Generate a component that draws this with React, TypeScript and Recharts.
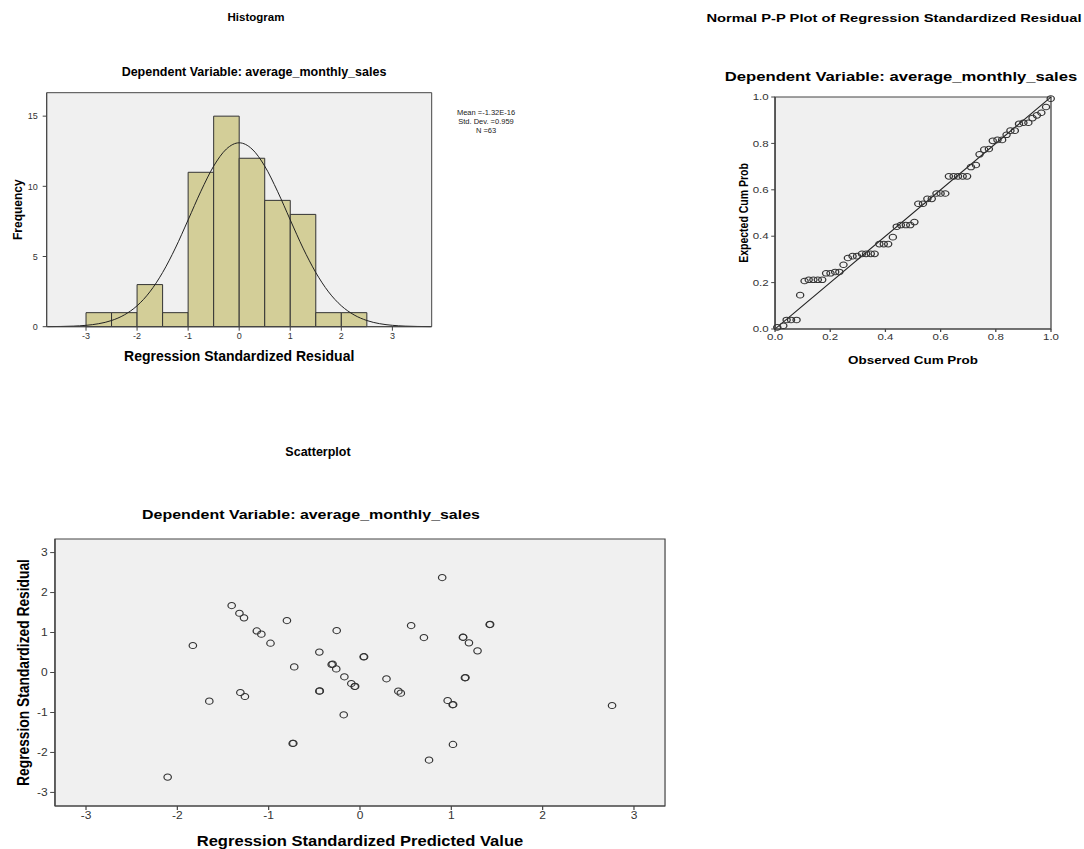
import React from 'react';
import {
  ComposedChart,
  ScatterChart,
  Scatter,
  Line,
  XAxis,
  YAxis,
  ReferenceArea,
  ReferenceLine,
} from 'recharts';

const FONT = '"Liberation Sans", Arial, Helvetica, sans-serif';

// Histogram of regression standardized residuals (bin lower edges, counts)
const binStarts = [-3, -2.5, -2, -1.5, -1, -0.5, 0, 0.5, 1, 1.5, 2];
const binCounts = [1, 1, 3, 1, 11, 15, 12, 9, 8, 1, 1];
const binWidth = 0.5;

// normal curve
const curveX = [
  -3.75, -3.5, -3.25, -3, -2.75, -2.5, -2.25, -2, -1.75, -1.5, -1.25, -1, -0.75, -0.5, -0.25,
  0, 0.25, 0.5, 0.75, 1, 1.25, 1.5, 1.75, 2, 2.25, 2.5, 2.75, 3, 3.25, 3.5, 3.75,
];
const curveY = [
  0.006, 0.017, 0.042, 0.098, 0.215, 0.44, 0.84, 1.49, 2.48, 3.86, 5.6, 7.61, 9.65, 11.44, 12.66,
  13.1, 12.66, 11.44, 9.65, 7.61, 5.6, 3.86, 2.48, 1.49, 0.84, 0.44, 0.215, 0.098, 0.042, 0.017, 0.006,
];
const histXTicks = [-3, -2, -1, 0, 1, 2, 3];
const histYTicks = [0, 5, 10, 15];
const statsLines = ['Mean =-1.32E-16', 'Std. Dev. =0.959', 'N =63'];

// Normal P-P plot
const observedCum = [
  0.008, 0.03, 0.042, 0.058, 0.078, 0.091, 0.107, 0.122, 0.139, 0.155, 0.171, 0.185, 0.201, 0.218,
  0.233, 0.248, 0.264, 0.281, 0.297, 0.315, 0.33, 0.347, 0.361, 0.378, 0.394, 0.41, 0.427, 0.441,
  0.456, 0.474, 0.49, 0.505, 0.519, 0.536, 0.552, 0.568, 0.585, 0.6, 0.617, 0.63, 0.647, 0.663,
  0.68, 0.696, 0.71, 0.728, 0.741, 0.758, 0.775, 0.789, 0.806, 0.823, 0.839, 0.853, 0.869, 0.884,
  0.9, 0.918, 0.933, 0.949, 0.965, 0.982, 0.999,
];
const expectedCum = [
  0.007, 0.014, 0.039, 0.039, 0.039, 0.146, 0.207, 0.212, 0.212, 0.212, 0.212, 0.24, 0.24, 0.246,
  0.246, 0.277, 0.306, 0.314, 0.314, 0.324, 0.324, 0.324, 0.324, 0.366, 0.366, 0.366, 0.396, 0.441,
  0.448, 0.448, 0.448, 0.461, 0.54, 0.54, 0.561, 0.561, 0.584, 0.584, 0.584, 0.658, 0.658, 0.658,
  0.658, 0.658, 0.698, 0.707, 0.753, 0.773, 0.776, 0.811, 0.815, 0.815, 0.837, 0.855, 0.855, 0.884,
  0.889, 0.889, 0.909, 0.921, 0.932, 0.957, 0.993,
];
const ppTicks = [0, 0.2, 0.4, 0.6, 0.8, 1];

// Scatterplot: standardized predicted value vs standardized residual
const predicted = [
  -1.405, -1.32, -1.27, -1.13, -1.08, -0.98, -0.8, -1.83, -0.445, -0.72, -0.31, -0.3, -0.26, -0.255,
  -1.31, -1.26, -1.65, -0.445, -0.44, -0.737, -0.73, -2.106, 0.9, 0.56, 0.7, 1.42, 1.425, 1.127,
  1.13, 1.193, 1.287, 0.04, 0.045, -0.171, -0.095, -0.058, -0.053, 0.29, 0.42, 0.447, 1.149, 1.155,
  0.96, 1.015, 1.02, -0.178, 1.018, 0.756, 2.76,
];
const residual = [
  1.675, 1.483, 1.367, 1.04, 0.96, 0.733, 1.3, 0.675, 0.51, 0.14, 0.2, 0.21, 0.09, 1.05,
  -0.5, -0.6, -0.717, -0.467, -0.46, -1.775, -1.77, -2.617, 2.375, 1.175, 0.875, 1.2, 1.205, 0.883,
  0.88, 0.742, 0.542, 0.392, 0.395, -0.108, -0.275, -0.35, -0.345, -0.158, -0.467, -0.517, -0.133, -0.128,
  -0.7, -0.808, -0.8, -1.058, -1.8, -2.19, -0.825,
];
const scatterTicks = [-3, -2, -1, 0, 1, 2, 3];

const curveData = curveX.map((x, i) => ({ x, y: curveY[i] }));
const ppData = observedCum.map((x, i) => ({ x, y: expectedCum[i] }));
const scatterData = predicted.map((x, i) => ({ x, y: residual[i] }));

const BG = '#f0f0f0';
const EDGE = '#444';
const BAR = '#d3ce98';

// the P-P and scatter panels in the source are stretched sideways
const PP_STRETCH = 1.28;
const SC_STRETCH = 1.2;

const tickStyle = (size: number) => ({ fontSize: size, fill: '#333', fontFamily: FONT });
const labelStyle = (size: number, extra: object = {}) => ({
  fontSize: size,
  fontWeight: 'bold',
  fill: '#000',
  fontFamily: FONT,
  ...extra,
});

const Title = ({
  cx,
  cy,
  size,
  text,
  stretch = 1,
}: {
  cx: number;
  cy: number;
  size: number;
  text: string;
  stretch?: number;
}) => (
  <div
    style={{
      position: 'absolute',
      left: cx - 300,
      top: cy - size,
      width: 600,
      lineHeight: `${size * 2}px`,
      fontSize: size,
      fontWeight: 'bold',
      fontFamily: FONT,
      textAlign: 'center',
      color: '#000',
      whiteSpace: 'nowrap',
      transform: `scaleX(${stretch})`,
      transformOrigin: 'center',
    }}
  >
    {text}
  </div>
);

const ringShape = (r: number) => (props: any) =>
  <circle cx={props.cx} cy={props.cy} r={r} fill="none" stroke="#333" strokeWidth={1} />;

const Histogram = () => (
  <ComposedChart
    width={440}
    height={280}
    data={curveData}
    margin={{ top: 7.7, right: 8.3, bottom: 0.3, left: 0 }}
  >
    <XAxis
      dataKey="x"
      type="number"
      domain={[-3.77, 3.77]}
      ticks={histXTicks}
      height={38}
      tick={tickStyle(9)}
      tickSize={4}
      stroke={EDGE}
      label={{
        value: 'Regression Standardized Residual',
        position: 'insideBottom',
        offset: 4,
        style: labelStyle(14),
      }}
    />
    <YAxis
      type="number"
      domain={[0, 16.67]}
      ticks={histYTicks}
      width={46.7}
      tick={tickStyle(9)}
      tickSize={4}
      tickMargin={5}
      stroke={EDGE}
      label={{
        value: 'Frequency',
        angle: -90,
        position: 'insideLeft',
        offset: 18,
        style: labelStyle(12, { textAnchor: 'middle' }),
      }}
    />
    <ReferenceArea x1={-3.77} x2={3.77} y1={0} y2={16.67} fill={BG} fillOpacity={1} stroke={EDGE} />
    {binStarts.map((s, i) => (
      <ReferenceArea
        key={s}
        x1={s}
        x2={s + binWidth}
        y1={0}
        y2={binCounts[i]}
        fill={BAR}
        fillOpacity={1}
        stroke="#333"
        strokeWidth={1}
      />
    ))}
    <Line
      type="monotone"
      dataKey="y"
      stroke="#222"
      strokeWidth={1}
      dot={false}
      isAnimationActive={false}
    />
  </ComposedChart>
);

const PPPlot = () => (
  <ScatterChart width={284.4} height={290} margin={{ top: 12, right: 25.8, bottom: 0, left: 0 }}>
    <XAxis
      dataKey="x"
      type="number"
      domain={[0, 1]}
      ticks={ppTicks}
      tickFormatter={(v: number) => v.toFixed(1)}
      height={46}
      tick={tickStyle(9)}
      tickSize={3}
      stroke={EDGE}
      label={{
        value: 'Observed Cum Prob',
        position: 'insideBottom',
        offset: 11.2,
        style: labelStyle(10.5),
      }}
    />
    <YAxis
      dataKey="y"
      type="number"
      domain={[0, 1]}
      ticks={ppTicks}
      tickFormatter={(v: number) => v.toFixed(1)}
      width={43}
      tick={tickStyle(9)}
      tickSize={3}
      stroke={EDGE}
      label={{
        value: 'Expected Cum Prob',
        angle: -90,
        position: 'insideLeft',
        offset: 18,
        style: labelStyle(10.5, { textAnchor: 'middle' }),
      }}
    />
    <ReferenceArea x1={0} x2={1} y1={0} y2={1} fill={BG} fillOpacity={1} stroke={EDGE} />
    <ReferenceLine segment={[{ x: 0, y: 0 }, { x: 1, y: 1 }]} stroke="#222" strokeWidth={1} />
    <Scatter data={ppData} shape={ringShape(2.8)} isAnimationActive={false} />
  </ScatterChart>
);

const ResidualScatter = () => (
  <ScatterChart width={566.7} height={319} margin={{ top: 9, right: 12.5, bottom: 0, left: 0 }}>
    <XAxis
      dataKey="x"
      type="number"
      domain={[-3.34, 3.34]}
      ticks={scatterTicks}
      height={43}
      tick={tickStyle(10)}
      tickSize={4}
      stroke={EDGE}
      label={{
        value: 'Regression Standardized Predicted Value',
        position: 'insideBottom',
        offset: 2.5,
        style: labelStyle(13.8),
      }}
    />
    <YAxis
      dataKey="y"
      type="number"
      domain={[-3.34, 3.34]}
      ticks={scatterTicks}
      width={45.8}
      tick={tickStyle(10)}
      tickSize={4}
      stroke={EDGE}
      label={{
        value: 'Regression Standardized Residual',
        angle: -90,
        position: 'insideLeft',
        offset: 19.2,
        style: labelStyle(13.8, { textAnchor: 'middle' }),
      }}
    />
    <ReferenceArea x1={-3.34} x2={3.34} y1={-3.34} y2={3.34} fill={BG} fillOpacity={1} stroke={EDGE} />
    <Scatter data={scatterData} shape={ringShape(3.1)} isAnimationActive={false} />
  </ScatterChart>
);

export default function App() {
  return (
    <div
      style={{
        position: 'absolute',
        left: 0,
        top: 0,
        width: 1084,
        height: 849,
        background: '#fff',
        overflow: 'hidden',
        fontFamily: FONT,
      }}
    >
      <Title cx={256} cy={17} size={11.5} text="Histogram" />
      <Title cx={254} cy={72} size={12.5} text="Dependent Variable: average_monthly_sales" />
      <Title
        cx={894}
        cy={18}
        size={11.5}
        stretch={PP_STRETCH}
        text="Normal P-P Plot of Regression Standardized Residual"
      />
      <Title
        cx={901}
        cy={77}
        size={13}
        stretch={PP_STRETCH}
        text="Dependent Variable: average_monthly_sales"
      />
      <Title cx={318} cy={452} size={12.5} text="Scatterplot" />
      <Title
        cx={311}
        cy={515}
        size={13.3}
        stretch={SC_STRETCH}
        text="Dependent Variable: average_monthly_sales"
      />

      <div
        style={{
          position: 'absolute',
          left: 436,
          top: 108,
          width: 100,
          textAlign: 'center',
          fontSize: 7.5,
          lineHeight: '9px',
          color: '#222',
          fontFamily: FONT,
        }}
      >
        {statsLines.map((s) => (
          <div key={s}>{s}</div>
        ))}
      </div>

      <div style={{ position: 'absolute', left: 0, top: 85 }}>
        <Histogram />
      </div>
      <div
        style={{
          position: 'absolute',
          left: 720,
          top: 85,
          transform: `scaleX(${PP_STRETCH})`,
          transformOrigin: '0 0',
        }}
      >
        <PPPlot />
      </div>
      <div
        style={{
          position: 'absolute',
          left: 0,
          top: 530,
          transform: `scaleX(${SC_STRETCH})`,
          transformOrigin: '0 0',
        }}
      >
        <ResidualScatter />
      </div>
    </div>
  );
}
